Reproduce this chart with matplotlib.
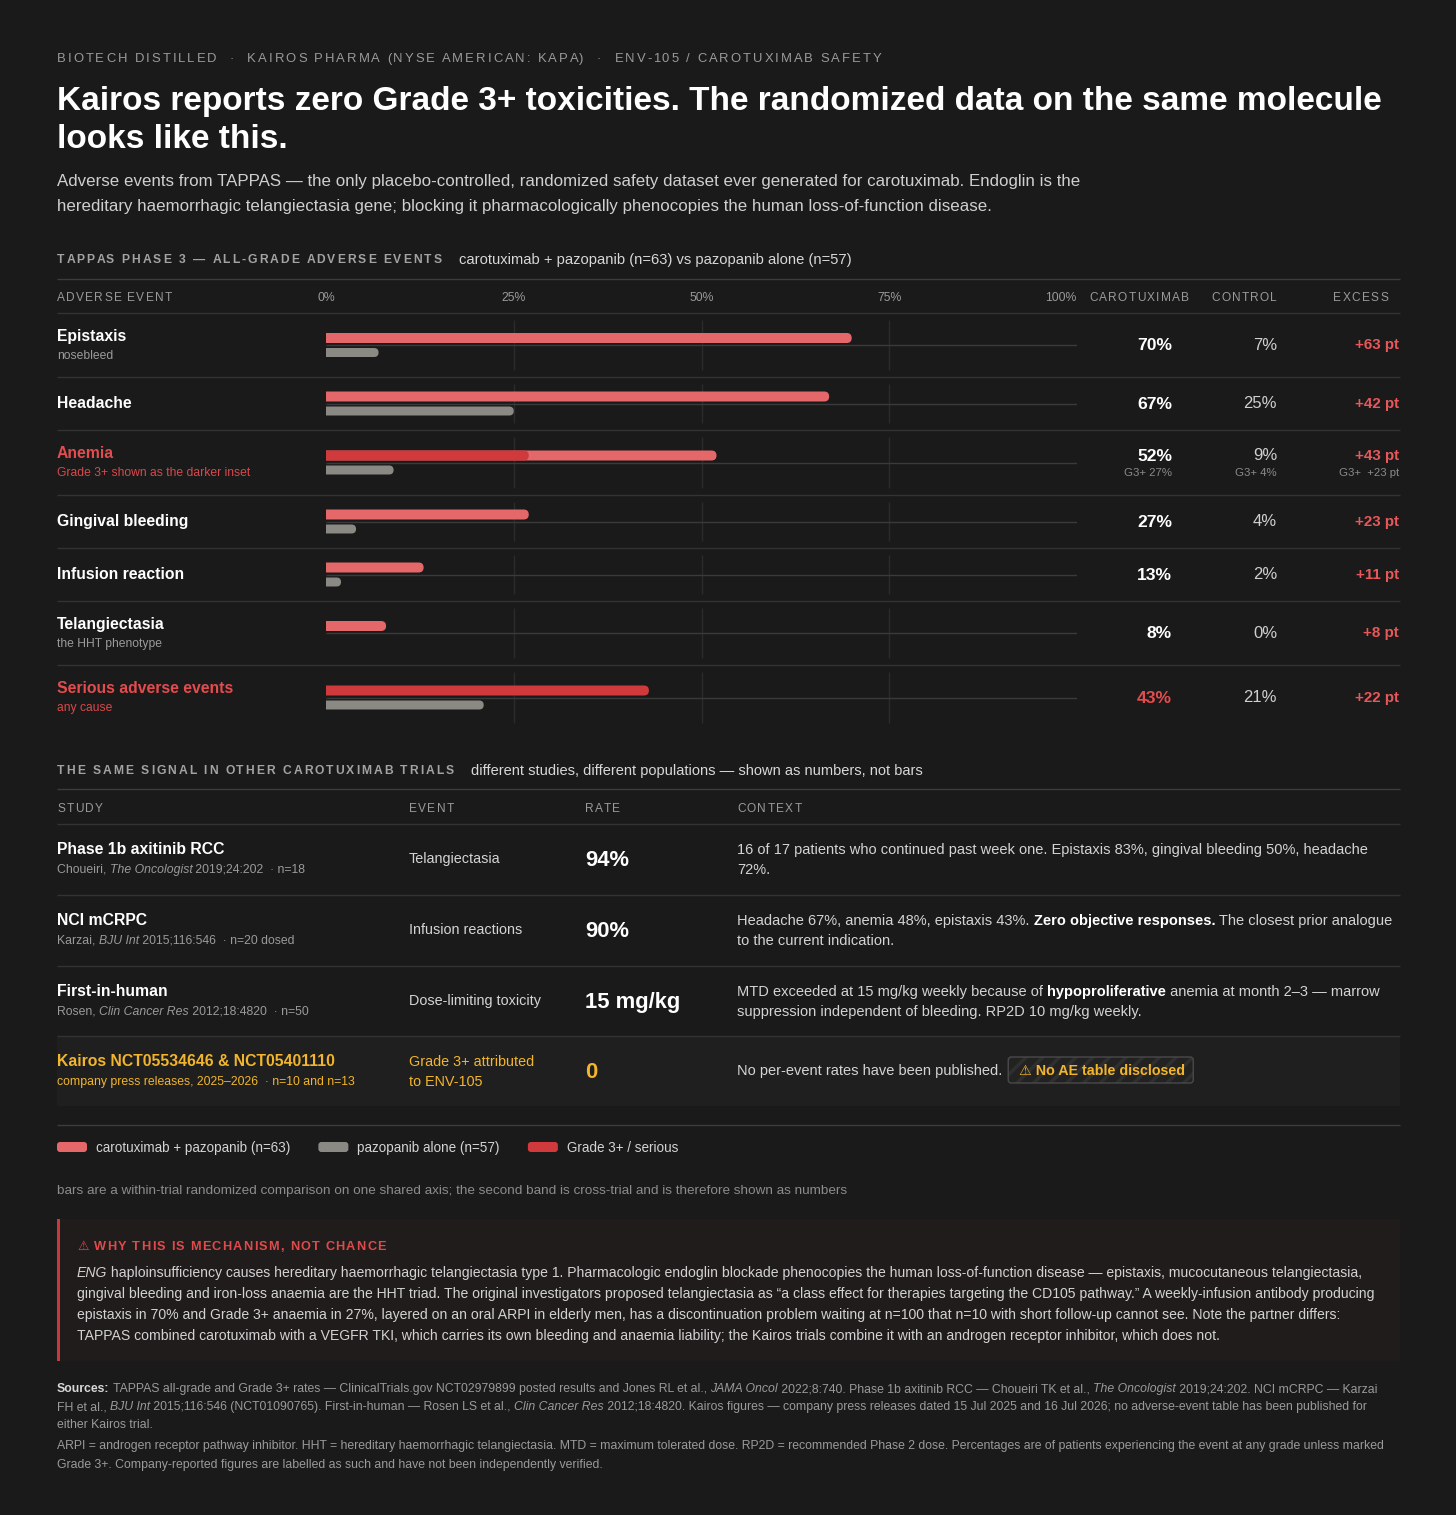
import matplotlib
matplotlib.use("Agg")
import matplotlib.pyplot as plt
from matplotlib.font_manager import FontProperties
from matplotlib.patches import Rectangle, FancyBboxPatch

# ---------------- data ----------------
events = ["Epistaxis", "Headache", "Anemia", "Gingival bleeding",
          "Infusion reaction", "Telangiectasia", "Serious adverse events"]
event_notes = ["nosebleed", "", "Grade 3+ shown as the darker inset", "", "",
               "the HHT phenotype", "any cause"]
caro_pct = [70, 67, 52, 27, 13, 8, 43]
ctrl_pct = [7, 25, 9, 4, 2, 0, 21]
anemia_g3_caro = 27
anemia_g3_ctrl = 4
highlight_rows = [2, 6]          # red labels
serious_row = 6
anemia_row = 2
axis_ticks = [0, 25, 50, 75, 100]

study_names = ["Phase 1b axitinib RCC", "NCI mCRPC", "First-in-human",
               "Kairos NCT05534646 & NCT05401110"]
study_refs = [
    [("Choueiri, ", "n"), ("The Oncologist", "i"), (" 2019;24:202  · n=18", "n")],
    [("Karzai, ", "n"), ("BJU Int", "i"), (" 2015;116:546  · n=20 dosed", "n")],
    [("Rosen, ", "n"), ("Clin Cancer Res", "i"), (" 2012;18:4820  · n=50", "n")],
    [("company press releases, 2025–2026  · n=10 and n=13", "n")],
]
study_events = [["Telangiectasia"], ["Infusion reactions"], ["Dose-limiting toxicity"],
                ["Grade 3+ attributed", "to ENV-105"]]
study_rates = ["94%", "90%", "15 mg/kg", "0"]
study_context = [
    [[("16 of 17 patients who continued past week one. Epistaxis 83%, gingival bleeding 50%, headache", "n")],
     [("72%.", "n")]],
    [[("Headache 67%, anemia 48%, epistaxis 43%. ", "n"), ("Zero objective responses.", "b"),
      (" The closest prior analogue", "n")],
     [("to the current indication.", "n")]],
    [[("MTD exceeded at 15 mg/kg weekly because of ", "n"), ("hypoproliferative", "b"),
      (" anemia at month 2–3 — marrow", "n")],
     [("suppression independent of bleeding. RP2D 10 mg/kg weekly.", "n")]],
    [[("No per-event rates have been published.", "n")]],
]
company_row = 3

legend_labels = ["carotuximab + pazopanib (n=63)", "pazopanib alone (n=57)", "Grade 3+ / serious"]

callout_lines = [
    [("ENG", "i"), (" haploinsufficiency causes hereditary haemorrhagic telangiectasia type 1. Pharmacologic endoglin blockade phenocopies the human loss-of-function disease — epistaxis, mucocutaneous telangiectasia,", "n")],
    [("gingival bleeding and iron-loss anaemia are the HHT triad. The original investigators proposed telangiectasia as “a class effect for therapies targeting the CD105 pathway.” A weekly-infusion antibody producing", "n")],
    [("epistaxis in 70% and Grade 3+ anaemia in 27%, layered on an oral ARPI in elderly men, has a discontinuation problem waiting at n=100 that n=10 with short follow-up cannot see. Note the partner differs:", "n")],
    [("TAPPAS combined carotuximab with a VEGFR TKI, which carries its own bleeding and anaemia liability; the Kairos trials combine it with an androgen receptor inhibitor, which does not.", "n")],
]
source_lines = [
    [("Sources:", "b"), (" TAPPAS all-grade and Grade 3+ rates — ClinicalTrials.gov NCT02979899 posted results and Jones RL et al., ", "n"),
     ("JAMA Oncol", "i"), (" 2022;8:740. Phase 1b axitinib RCC — Choueiri TK et al., ", "n"), ("The Oncologist", "i"),
     (" 2019;24:202. NCI mCRPC — Karzai", "n")],
    [("FH et al., ", "n"), ("BJU Int", "i"), (" 2015;116:546 (NCT01090765). First-in-human — Rosen LS et al., ", "n"),
     ("Clin Cancer Res", "i"), (" 2012;18:4820. Kairos figures — company press releases dated 15 Jul 2025 and 16 Jul 2026; no adverse-event table has been published for", "n")],
    [("either Kairos trial.", "n")],
    [("ARPI = androgen receptor pathway inhibitor. HHT = hereditary haemorrhagic telangiectasia. MTD = maximum tolerated dose. RP2D = recommended Phase 2 dose. Percentages are of patients experiencing the event at any grade unless marked", "n")],
    [("Grade 3+. Company-reported figures are labelled as such and have not been independently verified.", "n")],
]

# ---------------- style ----------------
BG = "#1a1a1a"
WHITE = "#ffffff"
TXT = "#d4d4d4"
MUTED = "#9a9a9a"
LINE = "#333333"
LINE2 = "#3c3c3c"
GRID = "#2b2b2b"
RED_BAR = "#e4676a"
RED_DARK = "#d03a3d"
GRAY_BAR = "#8b8984"
RED_TXT = "#e34c4e"
EXC_TXT = "#e8585b"
AMBER = "#f2b52c"
FAM = ["Liberation Sans", "DejaVu Sans"]
plt.rcParams["hatch.linewidth"] = 2.5

W, H = 1456, 1515
fig = plt.figure(figsize=(W / 100, H / 100), dpi=100)
fig.patch.set_facecolor(BG)
ax = fig.add_axes([0, 0, 1, 1])
ax.set_xlim(0, W)
ax.set_ylim(H, 0)
ax.axis("off")
renderer = fig.canvas.get_renderer()

STY = {"n": ("normal", "normal"), "b": ("bold", "normal"), "i": ("normal", "italic")}


def fp(size, weight="normal", style="normal"):
    return FontProperties(family=FAM, size=size, weight=weight, style=style)


def tw(s, prop):
    w1, _, _ = renderer.get_text_width_height_descent(s + "|", prop, ismath=False)
    w2, _, _ = renderer.get_text_width_height_descent("|", prop, ismath=False)
    return w1 - w2


def base(y, size):
    # y is the visual centre of capitals; return the baseline (pixels, y down)
    return y + 0.355 * size / 0.72


def txt(x, y, s, size, color, weight="normal", style="normal", ha="left", axis=None, z=3):
    a = axis if axis is not None else ax
    a.text(x, base(y, size), s, fontproperties=fp(size, weight, style), color=color,
           ha=ha, va="baseline", clip_on=False, zorder=z)


def rich(x, y, segs, size, color, bold_color=None):
    cx = x
    for s, k in segs:
        w, st = STY[k]
        prop = fp(size, w, st)
        c = bold_color if (k == "b" and bold_color) else color
        ax.text(cx, base(y, size), s, fontproperties=prop, color=c, ha="left", va="baseline")
        cx += tw(s, prop)
    return cx


def spaced(x, y, s, size, color, weight="normal", sp=2.0, ha="left"):
    prop = fp(size, weight)
    total = tw(s, prop) + (len(s) - 1) * sp
    x0 = x - total if ha == "right" else x
    for i, ch in enumerate(s):
        if ch != " ":
            ax.text(x0 + tw(s[:i], prop) + i * sp, base(y, size), ch, fontproperties=prop,
                    color=color, ha="left", va="baseline")
    return x0 + total


def hline(y, x0=57, x1=1400, color=LINE, lw=1.0):
    ax.plot([x0, x1], [y, y], color=color, lw=lw, solid_capstyle="butt")


# ---------------- header ----------------
spaced(57, 57, "BIOTECH DISTILLED  ·  KAIROS PHARMA (NYSE AMERICAN: KAPA)  ·  ENV-105 / CAROTUXIMAB SAFETY",
       9.4, MUTED, sp=2.0)
txt(57, 98, "Kairos reports zero Grade 3+ toxicities. The randomized data on the same molecule",
    24.0, WHITE, weight="bold")
txt(57, 136, "looks like this.", 24.0, WHITE, weight="bold")
txt(57, 180, "Adverse events from TAPPAS — the only placebo-controlled, randomized safety dataset ever generated for carotuximab. Endoglin is the",
    12.2, "#cfcfcf")
txt(57, 205, "hereditary haemorrhagic telangiectasia gene; blocking it pharmacologically phenocopies the human loss-of-function disease.",
    12.2, "#cfcfcf")

# ---------------- section 1 ----------------
end = spaced(57, 259, "TAPPAS PHASE 3 — ALL-GRADE ADVERSE EVENTS", 8.7, "#a3a3a3", weight="bold", sp=2.0)
txt(end + 17, 259, "carotuximab + pazopanib (n=63) vs pazopanib alone (n=57)", 10.6, "#d8d8d8")
hline(279, color=LINE2)
spaced(57, 297, "ADVERSE EVENT", 8.6, MUTED, sp=1.3)
spaced(1189, 297, "CAROTUXIMAB", 8.6, MUTED, sp=1.3, ha="right")
spaced(1277, 297, "CONTROL", 8.6, MUTED, sp=1.3, ha="right")
spaced(1388, 297, "EXCESS", 8.6, MUTED, sp=1.3, ha="right")
hline(313)

BX0, BX1, BY0, BY1 = 326, 1077, 313, 730
bax = fig.add_axes([BX0 / W, 1 - BY1 / H, (BX1 - BX0) / W, (BY1 - BY0) / H])
bax.set_xlim(0, 100)
bax.set_ylim(BY1, BY0)
bax.axis("off")
bax.patch.set_alpha(0)
PXU = (BX1 - BX0) / 100.0

for t in axis_ticks:
    txt(t, 297, f"{t}%", 8.8, MUTED, ha="right" if t == 100 else "center", axis=bax)


def rbar(yc, v, h, color, z=3):
    if v <= 0:
        return
    r = h / 2.0
    ru = r / PXU
    # left rounding lies below x=0 and is clipped by the axes -> square start, round end
    p = FancyBboxPatch((-ru, yc - h / 2), v + ru, h,
                       boxstyle=f"round,pad=0,rounding_size={ru}",
                       mutation_aspect=PXU, fc=color, ec="none", zorder=z)
    bax.add_patch(p)


row_heights = [64, 53, 65, 53, 53, 64, 65]
top = BY0
for i, ev in enumerate(events):
    hgt = row_heights[i]
    bot = top + hgt
    yc = (top + bot) / 2
    # grid
    bax.vlines([25, 50, 75], top + 7, bot - 7, color=GRID, lw=1, zorder=1)
    bax.hlines(yc, 0, 100, color="#3a3a3a", lw=1, zorder=1)
    # labels
    lab_col = RED_TXT if i in highlight_rows else WHITE
    note_col = "#d9484a" if i in highlight_rows else MUTED
    if event_notes[i]:
        txt(57, top + 22, ev, 11.3, lab_col, weight="bold")
        txt(57, top + 42, event_notes[i], 8.7, note_col)
    else:
        txt(57, yc - 1, ev, 11.3, lab_col, weight="bold")
    # bars
    rbar(yc - 7, caro_pct[i], 10, RED_DARK if i == serious_row else RED_BAR)
    if i == anemia_row:
        rbar(yc - 7, anemia_g3_caro, 10, RED_DARK, z=4)
    rbar(yc + 7.5, ctrl_pct[i], 9, GRAY_BAR)
    # values
    vy = yc - 8 if i == anemia_row else yc - 1
    txt(1172, vy, f"{caro_pct[i]}%", 12.6, RED_TXT if i == serious_row else WHITE,
        weight="bold", ha="right")
    txt(1277, vy, f"{ctrl_pct[i]}%", 12.0, "#cfcfcf", ha="right")
    txt(1399, vy, f"+{caro_pct[i] - ctrl_pct[i]} pt", 10.9, EXC_TXT, weight="bold", ha="right")
    if i == anemia_row:
        txt(1172, yc + 9.5, f"G3+ {anemia_g3_caro}%", 8.2, "#8a8a8a", ha="right")
        txt(1277, yc + 9.5, f"G3+ {anemia_g3_ctrl}%", 8.2, "#8a8a8a", ha="right")
        txt(1399, yc + 9.5, f"G3+  +{anemia_g3_caro - anemia_g3_ctrl} pt", 8.2, "#8a8a8a", ha="right")
    if i < len(events) - 1:
        hline(bot)
    top = bot

# ---------------- section 2 ----------------
end = spaced(57, 770, "THE SAME SIGNAL IN OTHER CAROTUXIMAB TRIALS", 8.7, "#a3a3a3", weight="bold", sp=2.0)
txt(end + 17, 770, "different studies, different populations — shown as numbers, not bars", 10.55, "#d8d8d8")
hline(789, color=LINE2)
for lab, x in zip(["STUDY", "EVENT", "RATE", "CONTEXT"], [57, 409, 585, 737]):
    spaced(x, 808, lab, 8.6, MUTED, sp=1.3)
hline(824)

s2_heights = [71, 71, 70, 70]
top = 824
for i, name in enumerate(study_names):
    bot = top + s2_heights[i]
    comp = i == company_row
    if comp:
        ax.add_patch(Rectangle((57, top), 1400 - 57, bot - top, fc="#1f1f1f", ec="none", zorder=0))
    col_title = AMBER if comp else WHITE
    col_sub = AMBER if comp else MUTED
    txt(57, top + 24.5, name, 11.3, col_title, weight="bold")
    rich(57, top + 44.5, study_refs[i], 8.85, col_sub)
    ev_lines = study_events[i]
    if len(ev_lines) == 1:
        txt(409, top + 34, ev_lines[0], 10.4, TXT)
    else:
        for j, l in enumerate(ev_lines):
            txt(409, top + 24.5 + 20 * j, l, 10.4, AMBER)
    txt(585, top + 34, study_rates[i], 15.8, AMBER if comp else WHITE, weight="bold")
    ctx = study_context[i]
    if len(ctx) == 1:
        cend = rich(737, top + 34, ctx[0], 10.55, TXT, bold_color=WHITE)
    else:
        for j, segs in enumerate(ctx):
            rich(737, top + 24.5 + 20 * j, segs, 10.55, TXT, bold_color=WHITE)
    if comp:
        bx0 = cend + 6
        bw, bh = 185, 26
        by0 = top + 34 - bh / 2
        ax.add_patch(FancyBboxPatch((bx0, by0), bw, bh, boxstyle="round,pad=0,rounding_size=3",
                                    fc="#222222", ec="#2f2f2f", hatch="//", lw=0, zorder=2))
        ax.add_patch(FancyBboxPatch((bx0, by0), bw, bh, boxstyle="round,pad=0,rounding_size=3",
                                    fc="none", ec="#4a4a4a", lw=1, zorder=3))
        txt(bx0 + 11, top + 34, "⚠ No AE table disclosed", 10.3, AMBER, weight="bold", z=4)
    else:
        hline(bot)
    top = bot

hline(1125, color=LINE2)

# ---------------- legend ----------------
lx = 57
for lab, col in zip(legend_labels, [RED_BAR, GRAY_BAR, RED_DARK]):
    ax.add_patch(FancyBboxPatch((lx, 1142), 30, 10, boxstyle="round,pad=0,rounding_size=3",
                                fc=col, ec="none"))
    prop = fp(9.75)
    txt(lx + 39, 1147, lab, 9.75, TXT)
    lx = lx + 39 + tw(lab, prop) + 28

txt(57, 1189, "bars are a within-trial randomized comparison on one shared axis; the second band is cross-trial and is therefore shown as numbers",
    9.7, "#8c8c8c")

# ---------------- callout ----------------
ax.add_patch(Rectangle((57, 1219), 1400 - 57, 1361 - 1219, fc="#211c1c", ec="none", zorder=0))
ax.add_patch(Rectangle((57, 1219), 3, 1361 - 1219, fc="#c8393b", ec="none", zorder=1))
spaced(77, 1245, "⚠ WHY THIS IS MECHANISM, NOT CHANCE", 9.2, "#e04a4a", weight="bold", sp=1.25)
for j, segs in enumerate(callout_lines):
    rich(77, 1272 + 21 * j, segs, 10.05, "#d2d2d2")

# ---------------- sources ----------------
src_y = [1388, 1406, 1424, 1445, 1464]
for y, segs in zip(src_y, source_lines):
    rich(57, y, segs, 8.85, "#9a9a9a", bold_color="#d8d8d8")

fig.savefig("out.png", dpi=100, facecolor=BG)
